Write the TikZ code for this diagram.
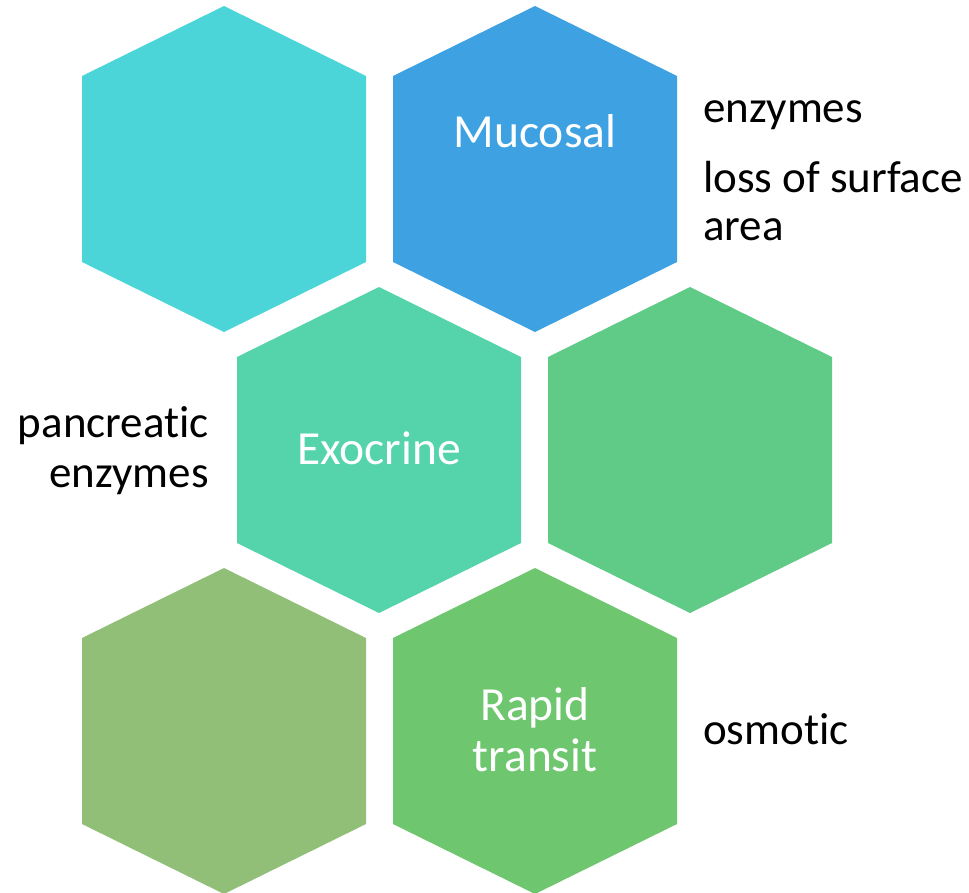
\documentclass[tikz,border=0pt]{standalone}
\usepackage{fontspec}
\setmainfont[Ligatures=CommonOff]{Carlito}
\definecolor{hcyan}{HTML}{4BD5D9}
\definecolor{hblue}{HTML}{3EA2E2}
\definecolor{hmint}{HTML}{55D4AB}
\definecolor{hgreen}{HTML}{60CB87}
\definecolor{holive}{HTML}{92BF78}
\definecolor{hleaf}{HTML}{6EC66F}
\newcommand\myhex[4]{%
  \fill[#4] (#1,#2) +(0,-163) -- +(142,-93) -- +(142,93) -- +(0,163) -- +(-142,93) -- +(-142,-93) -- cycle;
  \coordinate (#3) at (#1,#2);}
\tikzset{
  hexlabel/.style={text=white, font=\fontsize{47.5}{56}\selectfont, inner sep=0pt, anchor=base},
  sidelabel/.style={text=black, font=\fontsize{45}{54}\selectfont, inner sep=0pt},
}
\begin{document}
\begin{tikzpicture}[x=1pt,y=-1pt]
\useasboundingbox (0,0) rectangle (969,892);
\myhex{224}{169}{h1}{hcyan}
\myhex{535}{169}{h2}{hblue}
\myhex{379}{450}{h3}{hmint}
\myhex{690}{450}{h4}{hgreen}
\myhex{224}{731}{h5}{holive}
\myhex{535}{731}{h6}{hleaf}
\node[hexlabel] (mucosal) at (535,147) {Mucosal};
\node[hexlabel] (exocrine) at (379,464) {Exocrine};
\node[hexlabel] (rapid) at (535,720) {Rapid};
\node[hexlabel] (transit) at (535,771) {transit};
\node[sidelabel, anchor=base west] (enz) at (703,122) {enzymes};
\node[sidelabel, anchor=base west] (loss) at (703,192) {loss of surface};
\node[sidelabel, anchor=base west] (area) at (703,240) {area};
\node[sidelabel, anchor=base east] (panc) at (209,437) {pancreatic};
\node[sidelabel, anchor=base east] (penz) at (209,487) {enzymes};
\node[sidelabel, anchor=base west] (osm) at (703,744) {osmotic};
\end{tikzpicture}
\end{document}
